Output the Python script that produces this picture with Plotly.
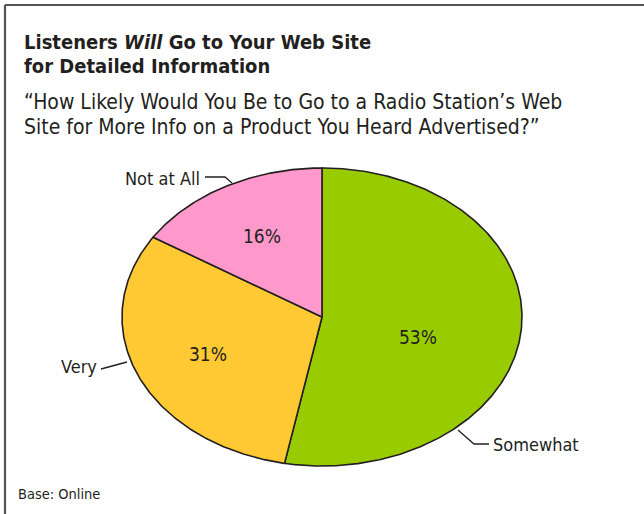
import math
import plotly.graph_objects as go

# Survey answers, clockwise from 12 o'clock
categories = ["Somewhat", "Very", "Not at All"]
shares = [53, 31, 16]
colors = ["#99CC00", "#FFC933", "#FF99CC"]

W, H = 644, 514
CX, CY = 322, 317          # pie centre (px)
RX, RY = 200, 149          # ellipse radii (px)
INK = "#231F20"
FONT = "DejaVu Sans Condensed, Liberation Sans Narrow, Arial Narrow, sans-serif"

# label placement tweaks per slice: (radius factor, angle shift in degrees)
pct_nudge = {"Somewhat": (0.50, 10), "Very": (0.62, 0), "Not at All": (0.62, 0)}


def ell(theta_deg, r=1.0):
    t = math.radians(theta_deg)
    return r * math.sin(t), r * math.cos(t)


fig = go.Figure()

total = sum(shares)
start = 0.0
mids = {}
for cat, val, col in zip(categories, shares, colors):
    span = 360.0 * val / total
    n = max(int(span * 2), 8)
    xs, ys = [0.0], [0.0]
    for i in range(n + 1):
        x, y = ell(start + span * i / n)
        xs.append(x)
        ys.append(y)
    xs.append(0.0)
    ys.append(0.0)
    fig.add_trace(go.Scatter(
        x=xs, y=ys, mode="lines", fill="toself", fillcolor=col,
        line=dict(color=INK, width=1.6), hoverinfo="skip", showlegend=False,
    ))
    mids[cat] = (start + span / 2, val)
    start += span

# percentage labels inside slices
for cat, (mid, val) in mids.items():
    r, shift = pct_nudge[cat]
    x, y = ell(mid + shift, r)
    fig.add_annotation(x=x, y=y, xref="x", yref="y", text=f"{val}%",
                       showarrow=False, font=dict(size=19, color=INK, family=FONT))


def px2d(px, py):
    return (px - CX) / RX, (CY - py) / RY


# leader lines from the rim to the category names (px)
leaders = {
    "Not at All": [(232, 183), (225, 177), (205, 177)],
    "Very": [(127, 362), (101, 369)],
    "Somewhat": [(458, 430), (474, 444), (489, 444)],
}
for cat, pts in leaders.items():
    xy = [px2d(*p) for p in pts]
    fig.add_trace(go.Scatter(
        x=[p[0] for p in xy], y=[p[1] for p in xy], mode="lines",
        line=dict(color=INK, width=1.3), hoverinfo="skip", showlegend=False,
    ))

name_pos = {"Not at All": (202, 178, "right"), "Very": (99, 366, "right"),
            "Somewhat": (491, 444, "left")}
for cat, (px, py, anchor) in name_pos.items():
    fig.add_annotation(x=px / W, y=1 - py / H, xref="paper", yref="paper",
                       xanchor=anchor, yanchor="middle", text=cat, showarrow=False,
                       font=dict(size=18, color=INK, family=FONT))


def text_line(txt, px, py, size, bold=False):
    fig.add_annotation(x=px / W, y=1 - py / H, xref="paper", yref="paper",
                       xanchor="left", yanchor="middle", showarrow=False,
                       text=f"<b>{txt}</b>" if bold else txt,
                       font=dict(size=size, color=INK, family=FONT))


text_line("Listeners <i>Will</i> Go to Your Web Site", 22, 42, 20, bold=True)
text_line("for Detailed Information", 22, 66, 20, bold=True)
text_line("“How Likely Would You Be to Go to a Radio Station’s Web", 22, 102, 21)
text_line("Site for More Info on a Product You Heard Advertised?”", 22, 127, 21)
text_line("Base: Online", 16, 494, 14.5)

# frame lines along top and left
fig.add_shape(type="line", xref="paper", yref="paper", x0=5 / W, x1=1.0,
              y0=1 - 5 / H, y1=1 - 5 / H, line=dict(color="#555555", width=2.2))
fig.add_shape(type="line", xref="paper", yref="paper", x0=5 / W, x1=5 / W,
              y0=1 - 5 / H, y1=0, line=dict(color="#555555", width=2.2))

fig.update_xaxes(range=[-CX / RX, (W - CX) / RX], visible=False, fixedrange=True)
fig.update_yaxes(range=[-(H - CY) / RY, CY / RY], visible=False, fixedrange=True)
fig.update_layout(width=W, height=H, margin=dict(l=0, r=0, t=0, b=0),
                  paper_bgcolor="white", plot_bgcolor="white")

fig.write_html("out.html")
